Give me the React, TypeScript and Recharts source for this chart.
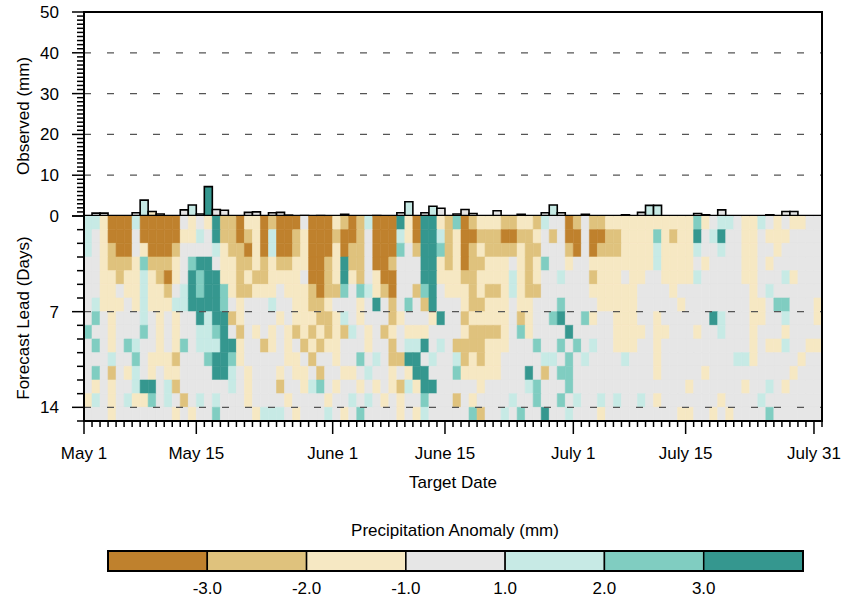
import React from "react";
import { Bar, BarChart, Cell, ReferenceLine, XAxis, YAxis } from "recharts";

const FONT = "'Liberation Sans', Arial, Helvetica, sans-serif";

// day index 0 = May 1 ... 91 = July 31
const targetDays = Array.from({ length: 92 }, (_, i) => i);
const dayTicks = Array.from({ length: 93 }, (_, i) => i);
const dateTickDays = [0, 14, 31, 45, 61, 75, 91];
const dateTickLabels = ["May 1", "May 15", "June 1", "June 15", "July 1", "July 15", "July 31"];

const obsTicks = Array.from({ length: 51 }, (_, i) => i);
const obsGrid = [10, 20, 30, 40];
const leadTicks = Array.from({ length: 16 }, (_, i) => i);
const leadMajor = [0, 7, 14];
const leadGrid = [7, 14];

// anomaly classes: 0 <-3, 1 -3..-2, 2 -2..-1, 3 -1..1, 4 1..2, 5 2..3, 6 >3
const anomalyColors = ["#BF812D", "#DFC27D", "#F6E8C3", "#E6E6E6", "#C7EAE5", "#80CDC1", "#35978F"];
const anomalyBounds = ["-3.0", "-2.0", "-1.0", "1.0", "2.0", "3.0"];

const observedMm = [
  0, 0.7, 0.7, 0, 0, 0, 0.8, 3.9, 1.1, 0.5, 0, 0, 1.5, 2.7, 0.5, 7.2, 1.6, 1.4, 0, 0,
  0.9, 1.0, 0, 0.8, 0.9, 0.2, 0, 0.1, 0, 0.1, 0, 0, 0.4, 0, 0, 0, 0.1, 0, 0, 0.8,
  3.5, 0, 0.8, 2.4, 1.9, 0, 0.5, 1.6, 0.6, 0, 0, 1.3, 0, 0, 0.4, 0, 0, 0.8, 2.7, 0.8,
  0, 0, 0.4, 0, 0, 0, 0, 0.3, 0, 0.9, 2.6, 2.6, 0, 0, 0, 0, 0.6, 0.3, 0, 1.5,
  0, 0, 0, 0, 0, 0.3, 0, 1.1, 1.1, 0, 0, 0,
];
const observedClass = (
  "3333333423 3334363333 3333333333 3333333333 4334333333 " +
  "3333333343 3333333333 4433333333 3333333333 33"
).replace(/ /g, "");

// forecast lead 0..14 (rows), target day 0..91 (columns)
const leadRows = [
  "4420004000 0032326110 2201000300 0210140006 2066215012 22112214330 1311222222 2222252344 32243232233",
  "4320003000 0022436110 1204001200 0100130004 2066412001 11001123130 0300112222 5212263463 32232223333",
  "4321003200 0133334211 0204001200 0201130005 3166512012 11112113331 0301112222 4222243343 32233233333",
  "3321112511 1235663221 1212112200 1261130013 3366212011 22232125332 3322222222 4222232333 32232333333",
  "3322122421 0236566221 2112222300 1262132003 3366222112 22242123343 3312223223 3222243333 32233342333",
  "3322322422 1346566521 1222322210 1153542103 3156322212 11242113333 3322222233 3323333333 33234333333",
  "3422232422 2446666532 3334332211 2333236313 5316333211 22232233353 3332222233 3332333333 33223553332",
  "3532333432 3233646612 3333232221 1243233312 3332633122 22231233563 3523322233 2333333643 33223343332",
  "5332333532 3233445631 3232321212 1214323123 2223333211 11235233336 3333322223 2233323343 33233323333",
  "3532354332 3253444662 3312323121 2233323313 4463431111 22233353353 5343322233 2333333333 33232243322",
  "3334335322 2133356652 3333322313 3233534311 6634334121 22333334435 3433334333 2333333333 44233333233",
  "3531324323 2233336643 2333232231 3322343323 2663335222 22333631355 3333333333 2333332333 33333332333",
  "3232334663 4133333343 2333133245 3233232321 4266333332 33333453335 3333333333 3333233333 32334323333",
  "2432342253 4313434333 2333323333 2334343232 3353331323 33343353353 4334343343 2333333323 33343333333",
  "3332333333 3232335333 3244432333 4323533332 3243333351 33435336334 3332333333 3332233232 33335333333",
].map((r) => r.replace(/ /g, ""));

const obsData = targetDays.map((d) => ({ day: d, obs: observedMm[d], cls: +observedClass[d] }));
const heatData = targetDays.map((d) => {
  const o: Record<string, number> = { day: d };
  leadRows.forEach((_, r) => (o[`r${r}`] = 1));
  return o;
});

const ObsTick = (props: any) => {
  const { x, y, payload } = props;
  const v = payload.value;
  const major = v % 10 === 0;
  return (
    <g>
      <line x1={x - (major ? 12 : 7)} x2={x} y1={y} y2={y} stroke="#000" strokeWidth={1.5} />
      {major && (
        <text x={x - 25} y={y + 6} textAnchor="end" fontSize={17} fontFamily={FONT} fill="#000">
          {v}
        </text>
      )}
    </g>
  );
};

const LeadTick = (props: any) => {
  const { x, y, payload } = props;
  const v = payload.value;
  const major = leadMajor.includes(v);
  return (
    <g>
      <line x1={x - (major ? 12 : 7)} x2={x} y1={y} y2={y} stroke="#000" strokeWidth={1.5} />
      {major && v > 0 && (
        <text x={x - 25} y={y + 6} textAnchor="end" fontSize={17} fontFamily={FONT} fill="#000">
          {v}
        </text>
      )}
    </g>
  );
};

const DateTick = (props: any) => {
  const { x, y, payload } = props;
  const i = dateTickDays.indexOf(payload.value);
  const major = i >= 0;
  return (
    <g>
      <line x1={x} x2={x} y1={y} y2={y + (major ? 13 : 6)} stroke="#000" strokeWidth={1.5} />
      {major && (
        <text x={x} y={y + 38} textAnchor="middle" fontSize={17} fontFamily={FONT} fill="#000">
          {dateTickLabels[i]}
        </text>
      )}
    </g>
  );
};

const ColorBar = () => {
  const x0 = 108;
  const w = 695;
  const y0 = 551;
  const h = 20;
  const bw = w / anomalyColors.length;
  return (
    <g>
      {anomalyColors.map((c, i) => (
        <rect key={c} x={x0 + i * bw} y={y0} width={bw} height={h} fill={c} stroke="#000" strokeWidth={1.5} />
      ))}
      <rect x={x0} y={y0} width={w} height={h} fill="none" stroke="#000" strokeWidth={2} />
      {anomalyBounds.map((b, i) => (
        <text key={b} x={x0 + (i + 1) * bw} y={594} textAnchor="middle" fontSize={17} fontFamily={FONT}>
          {b}
        </text>
      ))}
    </g>
  );
};

export default function App() {
  return (
    <div style={{ position: "absolute", left: 0, top: 0, width: 844, height: 599, background: "#fff", fontFamily: FONT }}>
      <div style={{ position: "absolute", left: 0, top: 0 }}>
        <BarChart
          width={844}
          height={230}
          data={obsData}
          margin={{ top: 12, right: 22, bottom: 14, left: 24 }}
          barCategoryGap={0}
          barGap={0}
        >
          <XAxis dataKey="day" type="category" hide height={0} />
          <YAxis
            domain={[0, 50]}
            ticks={obsTicks}
            interval={0}
            width={60}
            allowDataOverflow
            tick={<ObsTick />}
            tickLine={false}
            tickSize={0}
            tickMargin={0}
            axisLine={false}
          />
          {obsGrid.map((v) => (
            <ReferenceLine key={v} y={v} stroke="#555" strokeWidth={1.2} strokeDasharray="7 16" />
          ))}
          <Bar dataKey="obs" isAnimationActive={false} stroke="#000" strokeWidth={1.6}>
            {obsData.map((d) => (
              <Cell key={d.day} fill={anomalyColors[d.cls]} />
            ))}
          </Bar>
          <ReferenceLine y={0} stroke="#000" strokeWidth={2.5} />
        </BarChart>
      </div>
      <div style={{ position: "absolute", left: 0, top: 0 }}>
        <BarChart
          width={844}
          height={500}
          data={heatData}
          margin={{ top: 216, right: 22, bottom: 39, left: 24 }}
          barCategoryGap={0}
          barGap={0}
        >
          <XAxis dataKey="day" type="category" hide height={0} />
          <XAxis
            xAxisId="date"
            dataKey="day"
            type="number"
            domain={[0, 92]}
            ticks={dayTicks}
            interval={0}
            allowDataOverflow
            height={40}
            tick={<DateTick />}
            tickLine={false}
            tickSize={0}
            tickMargin={0}
            axisLine={false}
          />
          <YAxis
            domain={[0, 15]}
            reversed
            ticks={leadTicks}
            interval={0}
            width={60}
            allowDataOverflow
            tick={<LeadTick />}
            tickLine={false}
            tickSize={0}
            tickMargin={0}
            axisLine={false}
          />
          {leadRows.map((row, r) => (
            <Bar key={r} dataKey={`r${r}`} stackId="lead" isAnimationActive={false}>
              {targetDays.map((d) => (
                <Cell key={d} fill={anomalyColors[+row[d]]} stroke={anomalyColors[+row[d]]} strokeWidth={0.6} />
              ))}
            </Bar>
          ))}
          {leadGrid.map((v) => (
            <ReferenceLine key={v} y={v} stroke="#555" strokeWidth={1.2} strokeDasharray="7 16" />
          ))}
        </BarChart>
      </div>
      <div
        style={{
          position: "absolute",
          left: 83,
          top: 11,
          width: 740,
          height: 411,
          border: "2px solid #000",
          boxSizing: "border-box",
          pointerEvents: "none",
        }}
      />
      <svg width={844} height={599} style={{ position: "absolute", left: 0, top: 0, pointerEvents: "none" }}>
        <text transform="translate(29,116) rotate(-90)" textAnchor="middle" fontSize={17} fontFamily={FONT}>
          Observed (mm)
        </text>
        <text transform="translate(29,318) rotate(-90)" textAnchor="middle" fontSize={17} fontFamily={FONT}>
          Forecast Lead (Days)
        </text>
        <text x={453} y={488} textAnchor="middle" fontSize={17} fontFamily={FONT}>
          Target Date
        </text>
        <text x={455} y={536} textAnchor="middle" fontSize={17} fontFamily={FONT}>
          Precipitation Anomaly (mm)
        </text>
        <ColorBar />
      </svg>
    </div>
  );
}
